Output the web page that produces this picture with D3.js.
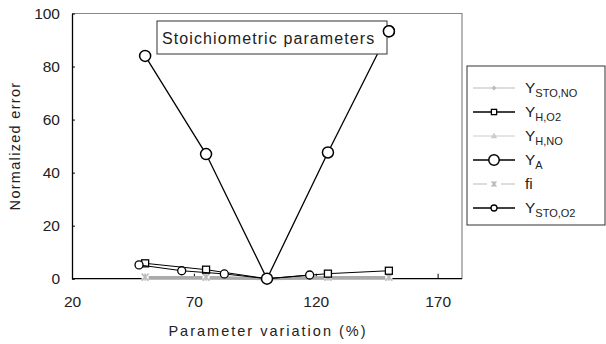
<!DOCTYPE html>
<html><head><meta charset="utf-8">
<script src="https://cdn.jsdelivr.net/npm/d3@7"></script>
<style>body{margin:0;background:#fff}svg{display:block;font-family:"Liberation Sans",Arial,sans-serif}</style>
</head><body><svg id="c" width="606" height="344"></svg>
<script>
const xTicks=[20,70,120,170];
const yTicks=[0,20,40,60,80,100];
const xMain=[50,75,100,125,150];
const ySTONO=[0.4,0.4,0,0.4,0.4];
const yHO2=[5.8,3.4,0,1.9,3.0];
const yHNO=[0.3,0.3,0,0.3,0.3];
const yA=[84,47,0,47.6,93.3];
const yFi=[0.6,0.6,0,0.6,0.6];
const xSTOO2=[47.5,65,82.5,100,117.5];
const ySTOO2=[5.2,3.0,1.8,0,1.4];

const svg=d3.select("#c");
const L=72,R=462,T=13.5,B=278.7;
const x=d3.scaleLinear().domain([20,180]).range([L,R]);
const y=d3.scaleLinear().domain([0,100]).range([B,T]);

svg.append("path").attr("d",`M${L},${T}H${R}V${B}`).attr("fill","none").attr("stroke","#888").attr("stroke-width",1.2);

const gx=svg.append("g").attr("transform",`translate(0,${B})`)
 .call(d3.axisBottom(x).tickValues(xTicks).tickSizeInner(-5).tickSizeOuter(0).tickPadding(17));
const gy=svg.append("g").attr("transform",`translate(${L},0)`)
 .call(d3.axisLeft(y).tickValues(yTicks).tickSizeInner(-3).tickSizeOuter(0).tickPadding(12));
[gx,gy].forEach(g=>{g.select(".domain").attr("stroke","#000").attr("stroke-width",1.3);
 g.selectAll("line").attr("stroke","#000");
 g.selectAll("text").attr("font-size",15.5).attr("fill","#222");});
gx.select(".domain").attr("d",`M${L},0H${R}`);

svg.append("text").attr("x",268).attr("y",336).attr("text-anchor","middle").attr("font-size",14.5)
 .attr("letter-spacing",2).attr("fill","#222").text("Parameter variation (%)");
svg.append("text").attr("transform","translate(20,146) rotate(-90)").attr("text-anchor","middle")
 .attr("font-size",14.5).attr("letter-spacing",1.3).attr("fill","#222").text("Normalized error");

const line=d3.line();
function series(xs,ys,color,w,marker,k=1){
  const pts=xs.map((v,i)=>[x(v),y(ys[i])]);
  svg.append("path").attr("d",line(pts)).attr("fill","none").attr("stroke",color).attr("stroke-width",w);
  pts.forEach(p=>drawMarker(svg,marker,p[0],p[1],k));
}
function drawMarker(g,m,cx,cy,k=1){
  if(m==="diamond"){const s=3*k;g.append("path").attr("d",`M${cx},${cy-s}L${cx+s},${cy}L${cx},${cy+s}L${cx-s},${cy}Z`).attr("fill","#bbb");}
  else if(m==="square"){const s=3.5*k;g.append("rect").attr("x",cx-s).attr("y",cy-s).attr("width",2*s).attr("height",2*s).attr("fill","#fff").attr("stroke","#000").attr("stroke-width",1.3);}
  else if(m==="tri"){const s=k;g.append("path").attr("d",`M${cx},${cy-4*s}L${cx+3.5*s},${cy+2.5*s}L${cx-3.5*s},${cy+2.5*s}Z`).attr("fill","#ccc");}
  else if(m==="bigc") g.append("circle").attr("cx",cx).attr("cy",cy).attr("r",5.5*k).attr("fill","#fff").attr("stroke","#000").attr("stroke-width",1.5);
  else if(m==="smallc") g.append("circle").attr("cx",cx).attr("cy",cy).attr("r",4*k).attr("fill","#fff").attr("stroke","#000").attr("stroke-width",1.3);
  else if(m==="star"){const s=3.5*k;g.append("rect").attr("x",cx-s).attr("y",cy-s).attr("width",2*s).attr("height",2*s).attr("fill","#fff");
    g.append("path").attr("d",`M${cx-s},${cy-s}L${cx+s},${cy+s}M${cx-s},${cy+s}L${cx+s},${cy-s}M${cx},${cy-s}V${cy+s}`).attr("stroke","#bbb").attr("stroke-width",1.6);}
}
series(xMain,yHNO,"#ccc",3,"tri");
series(xMain,ySTONO,"#aaa",3,"diamond");
series(xMain,yFi,"#aaa",2,"star");
series(xMain,yHO2,"#000",1,"square");
series(xSTOO2,ySTOO2,"#000",1,"smallc");
series(xMain,yA,"#000",1.3,"bigc");

// title box
svg.append("rect").attr("x",157).attr("y",21).attr("width",230).attr("height",33).attr("fill","#fff").attr("stroke","#333").attr("stroke-width",1);
svg.append("text").attr("x",162).attr("y",44).attr("font-size",16).attr("letter-spacing",1.1).attr("fill","#222").text("Stoichiometric parameters");
drawMarker(svg,"bigc",x(150),y(93.3));

// legend
const legNames=[["Y","STO,NO"],["Y","H,O2"],["Y","H,NO"],["Y","A"],["fi",""],["Y","STO,O2"]];
const legStyle=[["#bbb",1,"diamond",0.8],["#000",1.3,"square",0.75],["#ccc",1,"tri",0.9],["#000",1.5,"bigc",0.95],["#bbb",1,"star",0.7],["#000",1.3,"smallc",0.75]];
svg.append("rect").attr("x",467).attr("y",66).attr("width",138).attr("height",159).attr("fill","#fff").attr("stroke","#333").attr("stroke-width",1);
legNames.forEach((n,i)=>{
  const cy=88+i*24;
  const [c,w,m,k]=legStyle[i];
  const lg=svg.append("g");
  if(m==="star"){
    lg.append("line").attr("x1",473).attr("x2",487).attr("y1",cy).attr("y2",cy).attr("stroke",c).attr("stroke-width",w);
    lg.append("line").attr("x1",501).attr("x2",515).attr("y1",cy).attr("y2",cy).attr("stroke",c).attr("stroke-width",w);
  } else lg.append("line").attr("x1",473).attr("x2",515).attr("y1",cy).attr("y2",cy).attr("stroke",c).attr("stroke-width",w);
  drawMarker(lg,m,494,cy,k);
  const t=svg.append("text").attr("x",525).attr("y",cy+5).attr("font-size",15.5).attr("fill","#222");
  t.append("tspan").text(n[0]);
  if(n[1]) t.append("tspan").attr("font-size",11).attr("dy",4).text(n[1]);
});
</script></body></html>
